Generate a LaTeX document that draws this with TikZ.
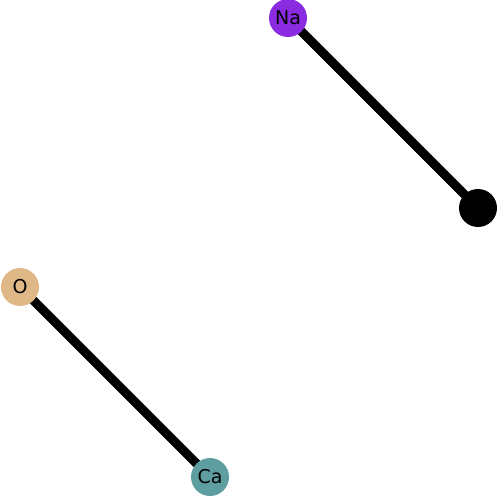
\documentclass[tikz,border=0pt]{standalone}
\usepackage{fontspec}
\setmainfont{DejaVu Sans}
\usetikzlibrary{backgrounds}
\definecolor{naviolet}{HTML}{8A2BE2}
\definecolor{otan}{HTML}{DEB887}
\definecolor{cablue}{HTML}{5F9EA0}
\tikzset{
  atom/.style={circle, inner sep=0pt, minimum size=38pt, font=\fontsize{19}{21}\selectfont},
  bond/.style={line width=9pt, black}
}
\begin{document}
\begin{tikzpicture}[x=1pt, y=-1pt]
  \useasboundingbox (0,0) rectangle (498,498);
  %% atoms
  \node[atom, fill=naviolet] (na)  at (288,18)  {Na};
  \node[atom, fill=black]    (blk) at (478,208) {};
  \node[atom, fill=otan]     (o)   at (20,287)  {O};
  \node[atom, fill=cablue]   (ca)  at (210,477) {Ca};

  %% bonds
  \begin{pgfonlayer}{background}
    \draw[bond] (na.center) -- (blk.center);
    \draw[bond] (o.center) -- (ca.center);
  \end{pgfonlayer}
\end{tikzpicture}
\end{document}
